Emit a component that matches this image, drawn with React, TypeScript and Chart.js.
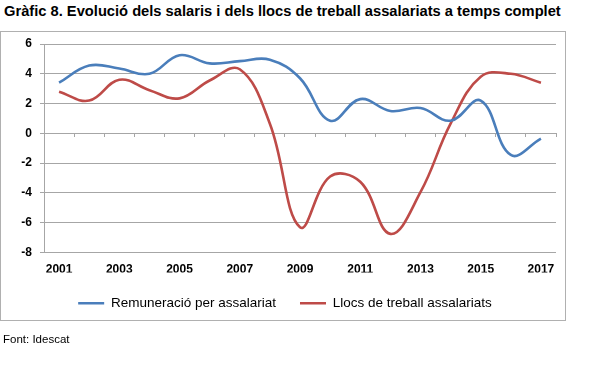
import React, { useEffect, useRef } from "react";
import { Chart, registerables } from "chart.js";

Chart.register(...registerables);

const years = ["2001","2002","2003","2004","2005","2006","2007","2008","2009","2010","2011","2012","2013","2014","2015","2016","2017"];
const shownYears = ["2001","2003","2005","2007","2009","2011","2013","2015","2017"];
const remuneracio = [3.4, 4.55, 4.35, 4.0, 5.25, 4.7, 4.85, 4.95, 3.7, 0.85, 2.3, 1.5, 1.7, 0.85, 2.2, -1.45, -0.35];
const llocs = [2.8, 2.2, 3.6, 2.9, 2.35, 3.55, 4.3, 0.65, -6.3, -2.9, -3.25, -6.75, -3.95, 0.65, 3.8, 4.0, 3.4];
const seriesNames = ["Remuneració per assalariat", "Llocs de treball assalariats"];
const seriesColors = ["#4a7ebb", "#be4b48"];
const yMin = -8;
const yMax = 6;
const yStep = 2;

const FONT = "'Liberation Sans', Arial, sans-serif";
const GRID = "#a6a6a6";

export default function App() {
  const ref = useRef<HTMLCanvasElement | null>(null);
  useEffect(() => {
    if (!ref.current) return;
    const chart = new Chart(ref.current, {
      type: "line",
      data: {
        labels: years,
        datasets: [
          {
            label: seriesNames[0],
            data: remuneracio,
            borderColor: seriesColors[0],
            backgroundColor: seriesColors[0],
            borderWidth: 2.6,
            pointRadius: 0,
            tension: 0.4,
            fill: false,
            xAxisID: "x",
            yAxisID: "y",
          },
          {
            label: seriesNames[1],
            data: llocs,
            borderColor: seriesColors[1],
            backgroundColor: seriesColors[1],
            borderWidth: 2.6,
            pointRadius: 0,
            tension: 0.4,
            fill: false,
            xAxisID: "x",
            yAxisID: "y",
          },
        ],
      },
      options: {
        responsive: false,
        animation: false,
        devicePixelRatio: 1,
        layout: { padding: { top: 44, left: 14, right: 44, bottom: 49 } },
        plugins: {
          title: { display: false },
          tooltip: { enabled: false },
          legend: {
            display: true,
            position: "bottom",
            labels: {
              usePointStyle: true,
              pointStyle: "line",
              pointStyleWidth: 26,
              padding: 24,
              color: "#000",
              font: { family: FONT, size: 13.5 },
            },
          },
        },
        scales: {
          x: {
            type: "category",
            position: "bottom",
            offset: true,
            grid: { display: false, drawTicks: false },
            border: { display: false },
            ticks: {
              autoSkip: false,
              maxRotation: 0,
              padding: 10,
              color: "#000",
              font: { family: FONT, size: 12, weight: "bold" },
              callback: (_v: any, i: number) => (shownYears.includes(years[i]) ? years[i] : ""),
            },
            afterFit: (s: any) => {
              s.height = 20;
            },
          },
          x0: {
            type: "category",
            position: { y: 0 } as any,
            offset: true,
            grid: {
              display: true,
              drawOnChartArea: false,
              drawTicks: true,
              tickLength: 4,
              color: GRID,
              offset: true,
            },
            border: { display: false },
            ticks: { display: false },
            afterFit: (s: any) => {
              s.height = 0;
            },
          },
          y: {
            type: "linear",
            min: yMin,
            max: yMax,
            ticks: {
              stepSize: yStep,
              padding: 8,
              color: "#000",
              font: { family: FONT, size: 12, weight: "bold" },
            },
            grid: { color: GRID, lineWidth: 1, drawTicks: true, tickLength: 4 },
            border: { display: true, color: GRID },
            afterFit: (s: any) => {
              s.width = 30;
            },
          },
        },
      },
    });
    return () => chart.destroy();
  }, []);

  return (
    <div style={{ position: "absolute", left: 0, top: 0, width: 600, height: 369, background: "#fff", fontFamily: FONT }}>
      <div
        style={{
          position: "absolute",
          left: 4,
          top: 3,
          fontSize: 14.7,
          lineHeight: "17px",
          fontWeight: "bold",
          color: "#000",
          whiteSpace: "nowrap",
        }}
      >
        Gràfic 8. Evolució dels salaris i dels llocs de treball assalariats a temps complet
      </div>
      <div
        style={{
          position: "absolute",
          left: 0,
          top: 31,
          width: 566,
          height: 290,
          boxSizing: "border-box",
          border: "1px solid #b0b0b0",
        }}
      />
      <canvas
        ref={ref}
        width={600}
        height={369}
        style={{ position: "absolute", left: 0, top: 0, width: 600, height: 369 }}
      />
      <div
        style={{
          position: "absolute",
          left: 3,
          top: 333,
          fontSize: 11.5,
          lineHeight: "13px",
          color: "#000",
          whiteSpace: "nowrap",
        }}
      >
        Font: Idescat
      </div>
    </div>
  );
}
